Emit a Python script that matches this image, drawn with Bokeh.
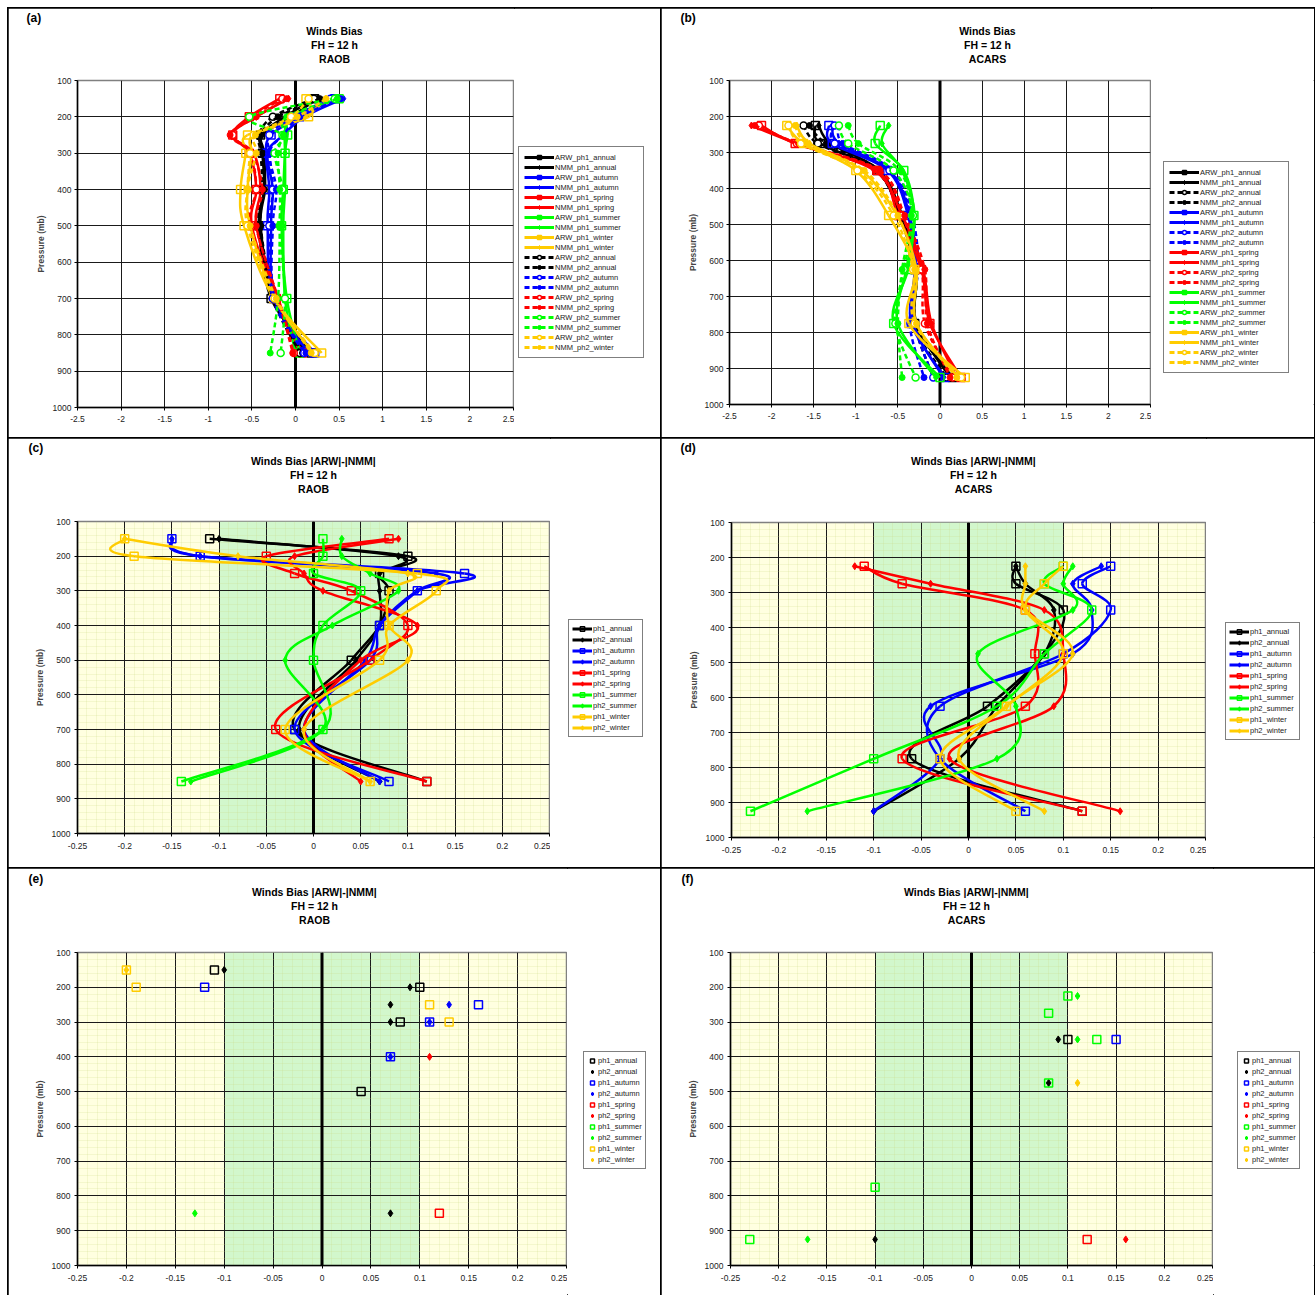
import math
from bokeh.plotting import figure
from bokeh.models import (ColumnDataSource, FixedTicker, CustomJSTickFormatter, Legend,
                          LegendItem, Span, Title)
from bokeh.layouts import column, row
from bokeh.embed import file_html
from bokeh.resources import INLINE

NAN = float("nan")

# ------------------------------------------------------------------ data
raob_levels = [150, 200, 250, 300, 400, 500, 700, 850]
acars_levels = [225, 275, 350, 475, 625, 775, 925]
pressure_ticks = [100, 200, 300, 400, 500, 600, 700, 800, 900, 1000]
bias_ticks = [-2.5, -2, -1.5, -1, -0.5, 0, 0.5, 1, 1.5, 2, 2.5]
diff_ticks = [-0.25, -0.2, -0.15, -0.1, -0.05, 0, 0.05, 0.1, 0.15, 0.2, 0.25]
seasons = ["annual", "autumn", "spring", "summer", "winter"]
season_colors = ["#000000", "#0000FF", "#FF0000", "#00FF00", "#FFCC00"]

# (a) Winds bias, RAOB
a_arw_ph1_annual = [0.22, -0.12, -0.40, -0.38, -0.36, -0.42, -0.28, 0.18]
a_nmm_ph1_annual = [0.25, -0.05, -0.38, -0.36, -0.35, -0.40, -0.25, 0.12]
a_arw_ph1_autumn = [0.45, 0.05, -0.28, -0.34, -0.30, -0.32, -0.25, 0.22]
a_nmm_ph1_autumn = [0.55, 0.10, -0.14, -0.32, -0.26, -0.28, -0.24, 0.15]
a_arw_ph1_spring = [-0.18, -0.53, -0.72, -0.53, -0.45, -0.50, -0.22, 0.08]
a_nmm_ph1_spring = [-0.08, -0.45, -0.74, -0.48, -0.40, -0.45, -0.20, 0.05]
a_arw_ph1_summer = [0.50, -0.05, -0.09, -0.12, -0.14, -0.16, -0.10, 0.05]
a_nmm_ph1_summer = [0.50, -0.05, -0.12, -0.12, -0.12, -0.14, -0.12, 0.00]
a_arw_ph1_winter = [0.12, 0.15, -0.55, -0.57, -0.63, -0.59, -0.25, 0.30]
a_nmm_ph1_winter = [0.35, 0.10, -0.48, -0.50, -0.55, -0.52, -0.24, 0.20]
a_arw_ph2_annual = [0.21, -0.26, -0.42, -0.40, -0.38, -0.42, -0.26, 0.05]
a_nmm_ph2_annual = [0.28, -0.20, -0.40, -0.38, -0.36, -0.40, -0.24, 0.08]
a_arw_ph2_autumn = [0.40, -0.02, -0.30, -0.30, -0.26, -0.30, -0.26, 0.10]
a_nmm_ph2_autumn = [0.52, 0.05, -0.14, -0.30, -0.22, -0.26, -0.24, 0.12]
a_arw_ph2_spring = [-0.15, -0.50, -0.72, -0.52, -0.45, -0.52, -0.20, -0.02]
a_nmm_ph2_spring = [-0.10, -0.45, -0.75, -0.50, -0.38, -0.45, -0.20, -0.03]
a_arw_ph2_summer = [0.45, -0.53, -0.15, -0.24, -0.15, -0.18, -0.12, -0.17]
a_nmm_ph2_summer = [0.48, -0.10, -0.14, -0.20, -0.18, -0.18, -0.20, -0.29]
a_arw_ph2_winter = [0.15, -0.05, -0.48, -0.52, -0.55, -0.55, -0.24, 0.22]
a_nmm_ph2_winter = [0.35, 0.02, -0.46, -0.45, -0.55, -0.52, -0.22, 0.18]

# (b) Winds bias, ACARS
b_arw_ph1_annual = [-1.48, -1.42, -0.75, -0.48, -0.30, -0.30, 0.15]
b_nmm_ph1_annual = [-1.44, -1.30, -0.72, -0.45, -0.28, -0.28, 0.12]
b_arw_ph2_annual = [-1.62, -1.45, -0.76, -0.47, -0.28, -0.32, 0.08]
b_nmm_ph2_annual = [-1.55, -1.35, -0.72, -0.44, -0.28, -0.30, -0.08]
b_arw_ph1_autumn = [-1.32, -1.28, -0.62, -0.38, -0.30, -0.34, 0.06]
b_nmm_ph1_autumn = [-1.28, -1.20, -0.60, -0.36, -0.28, -0.32, 0.04]
b_arw_ph2_autumn = [-1.25, -1.25, -0.60, -0.35, -0.30, -0.30, -0.08]
b_nmm_ph2_autumn = [-1.20, -1.15, -0.56, -0.33, -0.26, -0.36, -0.19]
b_arw_ph1_spring = [-2.12, -1.72, -0.75, -0.50, -0.22, -0.12, 0.25]
b_nmm_ph1_spring = [-2.24, -1.70, -0.78, -0.45, -0.20, -0.10, 0.20]
b_arw_ph2_spring = [-2.15, -1.70, -0.72, -0.45, -0.22, -0.18, 0.15]
b_nmm_ph2_spring = [-2.20, -1.68, -0.72, -0.42, -0.18, -0.15, 0.12]
b_arw_ph1_summer = [-0.71, -0.77, -0.43, -0.31, -0.38, -0.55, 0.00]
b_nmm_ph1_summer = [-0.61, -0.69, -0.45, -0.30, -0.40, -0.50, -0.05]
b_arw_ph2_summer = [-1.20, -1.09, -0.55, -0.32, -0.43, -0.53, -0.29]
b_nmm_ph2_summer = [-1.09, -0.97, -0.48, -0.34, -0.45, -0.50, -0.45]
b_arw_ph1_winter = [-1.82, -1.62, -1.00, -0.61, -0.30, -0.37, 0.30]
b_nmm_ph1_winter = [-1.70, -1.55, -0.93, -0.51, -0.28, -0.28, 0.22]
b_arw_ph2_winter = [-1.80, -1.65, -0.98, -0.55, -0.32, -0.30, 0.25]
b_nmm_ph2_winter = [-1.72, -1.58, -0.90, -0.50, -0.30, -0.28, 0.20]

# (c) |ARW|-|NMM|, RAOB
c_ph1_annual = [-0.11, 0.10, 0.07, 0.08, 0.07, 0.04, -0.02, 0.12]
c_ph2_annual = [-0.10, 0.09, 0.07, 0.07, 0.07, 0.045, -0.015, 0.07]
c_ph1_autumn = [-0.15, -0.12, 0.16, 0.11, 0.07, 0.06, -0.02, 0.08]
c_ph2_autumn = [-0.15, -0.12, 0.13, 0.11, 0.07, 0.055, -0.01, 0.07]
c_ph1_spring = [0.08, -0.05, -0.02, 0.04, 0.10, 0.06, -0.04, 0.12]
c_ph2_spring = [0.09, -0.02, -0.01, 0.01, 0.11, 0.05, -0.01, 0.05]
c_ph1_summer = [0.01, 0.01, 0.00, 0.05, 0.01, 0.00, 0.01, -0.14]
c_ph2_summer = [0.03, 0.03, 0.06, 0.09, 0.02, -0.03, 0.01, -0.13]
c_ph1_winter = [-0.20, -0.19, 0.11, 0.13, 0.08, 0.07, -0.03, 0.06]
c_ph2_winter = [-0.20, -0.08, 0.10, 0.08, 0.08, 0.10, -0.01, 0.06]

# (d) |ARW|-|NMM|, ACARS
d_ph1_annual = [0.05, 0.05, 0.10, 0.08, 0.02, -0.06, 0.12]
d_ph2_annual = [0.05, 0.06, 0.09, 0.08, 0.03, -0.01, -0.10]
d_ph1_autumn = [0.15, 0.12, 0.15, 0.10, -0.03, -0.03, 0.06]
d_ph2_autumn = [0.14, 0.11, 0.13, 0.11, -0.04, -0.03, -0.10]
d_ph1_spring = [-0.11, -0.07, 0.06, 0.07, 0.06, -0.07, 0.12]
d_ph2_spring = [-0.12, -0.04, 0.08, 0.10, 0.09, -0.02, 0.16]
d_ph1_summer = [0.10, 0.08, 0.13, 0.08, 0.03, -0.10, -0.23]
d_ph2_summer = [0.11, 0.10, 0.11, 0.01, 0.05, 0.03, -0.17]
d_ph1_winter = [0.10, 0.08, 0.06, 0.10, 0.04, -0.03, 0.05]
d_ph2_winter = [0.06, 0.06, 0.06, 0.11, 0.04, -0.01, 0.08]

# (e) significant differences, RAOB
e_ph1_annual = [-0.11, 0.10, NAN, 0.08, NAN, 0.04, NAN, NAN]
e_ph2_annual = [-0.10, 0.09, 0.07, 0.07, NAN, NAN, NAN, 0.07]
e_ph1_autumn = [NAN, -0.12, 0.16, 0.11, 0.07, NAN, NAN, NAN]
e_ph2_autumn = [NAN, NAN, 0.13, 0.11, 0.07, NAN, NAN, NAN]
e_ph1_spring = [NAN, NAN, NAN, NAN, NAN, NAN, NAN, 0.12]
e_ph2_spring = [NAN, NAN, NAN, NAN, 0.11, NAN, NAN, NAN]
e_ph1_summer = [NAN, NAN, NAN, NAN, NAN, NAN, NAN, NAN]
e_ph2_summer = [NAN, NAN, NAN, NAN, NAN, NAN, NAN, -0.13]
e_ph1_winter = [-0.20, -0.19, 0.11, 0.13, NAN, NAN, NAN, NAN]
e_ph2_winter = [-0.20, NAN, NAN, NAN, NAN, NAN, NAN, NAN]

# (f) significant differences, ACARS
f_ph1_annual = [NAN, NAN, 0.10, NAN, NAN, NAN, NAN]
f_ph2_annual = [NAN, NAN, 0.09, 0.08, NAN, NAN, -0.10]
f_ph1_autumn = [NAN, NAN, 0.15, NAN, NAN, NAN, NAN]
f_ph2_autumn = [NAN, NAN, NAN, NAN, NAN, NAN, NAN]
f_ph1_spring = [NAN, NAN, NAN, NAN, NAN, NAN, 0.12]
f_ph2_spring = [NAN, NAN, NAN, NAN, NAN, NAN, 0.16]
f_ph1_summer = [0.10, 0.08, 0.13, 0.08, NAN, -0.10, -0.23]
f_ph2_summer = [0.11, NAN, 0.11, NAN, NAN, NAN, -0.17]
f_ph1_winter = [NAN, NAN, NAN, NAN, NAN, NAN, NAN]
f_ph2_winter = [NAN, NAN, NAN, 0.11, NAN, NAN, NAN]

# ------------------------------------------------------------------ helpers
FONT = "Liberation Sans"
AB_W = {'W': 944, 'i': 278, 'n': 611, 'd': 611, 's': 556, ' ': 278, 'B': 722, 'a': 556,
        'F': 611, 'H': 722, '=': 584, '1': 556, '2': 556, 'h': 611, 'R': 722, 'A': 722,
        'O': 778, 'C': 722, 'S': 667, '|': 280, 'M': 833, 'N': 722, '-': 333}
PANEL_BORDER = {"outline": "2px solid black", "outline-offset": "-1px"}


def text_w(s, size):
    return sum(AB_W.get(c, 556) for c in s) * size / 1000.0


def smooth_segments(xs, ys):
    pts = [(x, y) for x, y in zip(xs, ys) if not math.isnan(x)]
    d = {k: [] for k in ("x0", "y0", "x1", "y1", "cx0", "cy0", "cx1", "cy1")}
    n = len(pts)
    for i in range(n - 1):
        p0 = pts[max(i - 1, 0)]
        p1 = pts[i]
        p2 = pts[i + 1]
        p3 = pts[min(i + 2, n - 1)]
        d["x0"].append(p1[0]); d["y0"].append(p1[1])
        d["x1"].append(p2[0]); d["y1"].append(p2[1])
        d["cx0"].append(p1[0] + (p2[0] - p0[0]) / 6.0)
        d["cy0"].append(p1[1] + (p2[1] - p0[1]) / 6.0)
        d["cx1"].append(p2[0] - (p3[0] - p1[0]) / 6.0)
        d["cy1"].append(p2[1] - (p3[1] - p1[1]) / 6.0)
    return d


def valid(xs, ys):
    px, py = [], []
    for x, y in zip(xs, ys):
        if not math.isnan(x):
            px.append(x); py.append(y)
    return px, py


def make_fig(fw, fh, l, t, b, xr, xticks, xminor, shaded):
    p = figure(frame_width=fw, frame_height=fh, x_range=xr, y_range=(1000, 100),
               output_backend="svg", toolbar_location=None,
               min_border_left=l, min_border_right=1, min_border_top=t, min_border_bottom=b,
               background_fill_color="#FFFFE0" if shaded else "white",
               border_fill_color="white", outline_line_color="#808080", outline_line_width=1.5)
    p.title.visible = False
    yminor = [v for v in range(100, 1001, 20) if v % 100 != 0] if shaded else []
    xt = FixedTicker(ticks=xticks, minor_ticks=xminor)
    yt = FixedTicker(ticks=pressure_ticks, minor_ticks=yminor)
    p.xaxis.ticker = xt
    p.xgrid.ticker = xt
    p.yaxis.ticker = yt
    p.ygrid.ticker = yt
    p.xaxis.formatter = CustomJSTickFormatter(code="return String(Math.round(tick*100)/100);")
    for ax in (p.xaxis[0], p.yaxis[0]):
        ax.major_label_text_font = FONT
        ax.major_label_text_font_size = "8.5px"
        ax.major_label_text_color = "#222222"
        ax.axis_line_color = "black"
        ax.axis_line_width = 1.5
        ax.major_tick_line_color = "black"
        ax.major_tick_out = 3
        ax.major_tick_in = 0
        ax.minor_tick_line_color = None
    p.xaxis.major_label_standoff = 5
    p.yaxis.major_label_standoff = 3
    p.yaxis.axis_label = "Pressure (mb)"
    p.yaxis.axis_label_text_font = FONT
    p.yaxis.axis_label_text_font_size = "8.5px"
    p.yaxis.axis_label_text_font_style = "bold"
    p.yaxis.axis_label_standoff = 4
    for g in (p.xgrid[0], p.ygrid[0]):
        g.grid_line_color = "#1a1a1a"
        g.grid_line_width = 1
        if shaded:
            g.minor_grid_line_color = "#C8D880"
            g.minor_grid_line_alpha = 0.35
            g.minor_grid_line_width = 0.6
    if shaded:
        p.quad(left=[-0.1], right=[0.1], bottom=[1000], top=[100],
               fill_color="#D2F7CC", line_color=None, level="image")
    p.add_layout(Span(location=0, dimension="height", line_color="black",
                      line_width=3, level="underlay"))
    return p


def add_titles(p, letter, lines, center_rel, letter_rel, gap):
    # a blank white spacer row keeps the title block at a fixed distance from the frame
    p.add_layout(Title(text=".", text_color="white", text_font_size="4px", standoff=gap),
                 "above")
    for s in reversed(lines):
        off = center_rel - text_w(s, 10.5) / 2.0
        p.add_layout(Title(text=s, align="left", offset=off, text_font=FONT,
                           text_font_size="10.5px", text_font_style="bold",
                           text_color="black", standoff=0), "above")
    p.add_layout(Title(text=letter, align="left", offset=letter_rel, text_font=FONT,
                       text_font_size="12px", text_font_style="bold",
                       text_color="black", standoff=-4), "above")


def marker_style(kind, color):
    if kind == "sq":
        return dict(marker="square", size=8, line_color=color, fill_color=None, line_width=1.5)
    if kind == "dm":
        return dict(marker="diamond", size=7, line_color=color, fill_color=color, line_width=1)
    if kind == "oc":
        return dict(marker="circle", size=7, line_color=color, fill_color="white", line_width=1.5)
    return dict(marker="circle", size=6, line_color=color, fill_color=color, line_width=1)


def draw_series(p, xs, levels, color, dash, kind, lines=True):
    if lines:
        src = ColumnDataSource(smooth_segments(xs, levels))
        p.bezier(x0="x0", y0="y0", x1="x1", y1="y1", cx0="cx0", cy0="cy0",
                 cx1="cx1", cy1="cy1", source=src, line_color=color, line_width=2.5,
                 line_dash=dash)
    px, py = valid(xs, levels)
    p.scatter(px, py, **marker_style(kind, color))


def legend_panel(w, h, specs, loc, gw, gh, lw, pad, with_line):
    lf = figure(width=w, height=h, x_range=(0, 1), y_range=(0, 1), output_backend="svg",
                toolbar_location=None, x_axis_type=None, y_axis_type=None, min_border=0,
                outline_line_color=None, background_fill_color="white",
                border_fill_color="white")
    lf.title.visible = False
    lf.grid.visible = False
    items = []
    for label, color, dash, kind in specs:
        rs = []
        if with_line:
            rs.append(lf.line([NAN, NAN], [NAN, NAN], line_color=color, line_width=3,
                              line_dash=dash))
        rs.append(lf.scatter([NAN], [NAN], **marker_style(kind, color)))
        items.append(LegendItem(label=label, renderers=rs))
    lg = Legend(items=items, location=loc, orientation="vertical",
                glyph_width=gw, glyph_height=gh, label_height=gh, label_width=lw,
                label_standoff=1, spacing=0, padding=pad, margin=0,
                label_text_font=FONT, label_text_font_size="7.5px",
                label_text_color="#222222", border_line_color="black",
                border_line_width=1, background_fill_color="white",
                background_fill_alpha=1.0)
    lf.add_layout(lg, "center")
    return lf


bias_minor = []
diff_minor = [round(-0.25 + 0.01 * i, 2) for i in range(51)]


def ab_style(name):
    model, phase, season = name.split("_")
    color = season_colors[seasons.index(season)]
    dash = "solid" if phase == "ph1" else "5 3"
    if phase == "ph1":
        kind = "sq" if model == "ARW" else "dm"
    else:
        kind = "oc" if model == "ARW" else "fc"
    return color, dash, kind


# ------------------------------------------------------------------ panel (a)
a_series = [
    ("ARW_ph1_annual", a_arw_ph1_annual), ("NMM_ph1_annual", a_nmm_ph1_annual),
    ("ARW_ph1_autumn", a_arw_ph1_autumn), ("NMM_ph1_autumn", a_nmm_ph1_autumn),
    ("ARW_ph1_spring", a_arw_ph1_spring), ("NMM_ph1_spring", a_nmm_ph1_spring),
    ("ARW_ph1_summer", a_arw_ph1_summer), ("NMM_ph1_summer", a_nmm_ph1_summer),
    ("ARW_ph1_winter", a_arw_ph1_winter), ("NMM_ph1_winter", a_nmm_ph1_winter),
    ("ARW_ph2_annual", a_arw_ph2_annual), ("NMM_ph2_annual", a_nmm_ph2_annual),
    ("ARW_ph2_autumn", a_arw_ph2_autumn), ("NMM_ph2_autumn", a_nmm_ph2_autumn),
    ("ARW_ph2_spring", a_arw_ph2_spring), ("NMM_ph2_spring", a_nmm_ph2_spring),
    ("ARW_ph2_summer", a_arw_ph2_summer), ("NMM_ph2_summer", a_nmm_ph2_summer),
    ("ARW_ph2_winter", a_arw_ph2_winter), ("NMM_ph2_winter", a_nmm_ph2_winter),
]
pa = make_fig(436, 327, 69, 72, 31, (-2.5, 2.5), bias_ticks, bias_minor, False)
add_titles(pa, "(a)", ["Winds Bias", "FH = 12 h", "RAOB"], 257, -51, 11)
for name, vals in a_series:
    color, dash, kind = ab_style(name)
    draw_series(pa, vals, raob_levels, color, dash, kind)
la = legend_panel(147, 430, [(n,) + ab_style(n) for n, _ in a_series], (4, 49),
                  30, 10, 83, 5, True)

# ------------------------------------------------------------------ panel (b)
b_series = [
    ("ARW_ph1_annual", b_arw_ph1_annual), ("NMM_ph1_annual", b_nmm_ph1_annual),
    ("ARW_ph2_annual", b_arw_ph2_annual), ("NMM_ph2_annual", b_nmm_ph2_annual),
    ("ARW_ph1_autumn", b_arw_ph1_autumn), ("NMM_ph1_autumn", b_nmm_ph1_autumn),
    ("ARW_ph2_autumn", b_arw_ph2_autumn), ("NMM_ph2_autumn", b_nmm_ph2_autumn),
    ("ARW_ph1_spring", b_arw_ph1_spring), ("NMM_ph1_spring", b_nmm_ph1_spring),
    ("ARW_ph2_spring", b_arw_ph2_spring), ("NMM_ph2_spring", b_nmm_ph2_spring),
    ("ARW_ph1_summer", b_arw_ph1_summer), ("NMM_ph1_summer", b_nmm_ph1_summer),
    ("ARW_ph2_summer", b_arw_ph2_summer), ("NMM_ph2_summer", b_nmm_ph2_summer),
    ("ARW_ph1_winter", b_arw_ph1_winter), ("NMM_ph1_winter", b_nmm_ph1_winter),
    ("ARW_ph2_winter", b_arw_ph2_winter), ("NMM_ph2_winter", b_nmm_ph2_winter),
]
pb = make_fig(421, 324, 68, 72, 34, (-2.5, 2.5), bias_ticks, bias_minor, False)
add_titles(pb, "(b)", ["Winds Bias", "FH = 12 h", "ACARS"], 258, -49, 11)
for name, vals in b_series:
    color, dash, kind = ab_style(name)
    draw_series(pb, vals, acars_levels, color, dash, kind)
lb = legend_panel(163, 430, [(n,) + ab_style(n) for n, _ in b_series], (12, 31),
                  30, 10, 83, 5, True)

# ------------------------------------------------------------------ panels (c)-(f)
c_series = [("ph1_annual", c_ph1_annual), ("ph2_annual", c_ph2_annual),
            ("ph1_autumn", c_ph1_autumn), ("ph2_autumn", c_ph2_autumn),
            ("ph1_spring", c_ph1_spring), ("ph2_spring", c_ph2_spring),
            ("ph1_summer", c_ph1_summer), ("ph2_summer", c_ph2_summer),
            ("ph1_winter", c_ph1_winter), ("ph2_winter", c_ph2_winter)]
d_series = [("ph1_annual", d_ph1_annual), ("ph2_annual", d_ph2_annual),
            ("ph1_autumn", d_ph1_autumn), ("ph2_autumn", d_ph2_autumn),
            ("ph1_spring", d_ph1_spring), ("ph2_spring", d_ph2_spring),
            ("ph1_summer", d_ph1_summer), ("ph2_summer", d_ph2_summer),
            ("ph1_winter", d_ph1_winter), ("ph2_winter", d_ph2_winter)]
e_series = [("ph1_annual", e_ph1_annual), ("ph2_annual", e_ph2_annual),
            ("ph1_autumn", e_ph1_autumn), ("ph2_autumn", e_ph2_autumn),
            ("ph1_spring", e_ph1_spring), ("ph2_spring", e_ph2_spring),
            ("ph1_summer", e_ph1_summer), ("ph2_summer", e_ph2_summer),
            ("ph1_winter", e_ph1_winter), ("ph2_winter", e_ph2_winter)]
f_series = [("ph1_annual", f_ph1_annual), ("ph2_annual", f_ph2_annual),
            ("ph1_autumn", f_ph1_autumn), ("ph2_autumn", f_ph2_autumn),
            ("ph1_spring", f_ph1_spring), ("ph2_spring", f_ph2_spring),
            ("ph1_summer", f_ph1_summer), ("ph2_summer", f_ph2_summer),
            ("ph1_winter", f_ph1_winter), ("ph2_winter", f_ph2_winter)]


def diff_style(name):
    phase, season = name.split("_")
    color = season_colors[seasons.index(season)]
    kind = "sq" if phase == "ph1" else "dm"
    return color, "solid", kind


def diff_panel(frame, borders, letter, src_name, center_rel, letter_rel, gap,
               series, levels, lines, leg_w, leg_h, leg_loc, gw, lw):
    fw, fh = frame
    l, t, b = borders
    p = make_fig(fw, fh, l, t, b, (-0.25, 0.25), diff_ticks, diff_minor, True)
    add_titles(p, letter, ["Winds Bias |ARW|-|NMM|", "FH = 12 h", src_name],
               center_rel, letter_rel, gap)
    for name, vals in series:
        color, dash, kind = diff_style(name)
        draw_series(p, vals, levels, color, dash, kind, lines=lines)
    lf = legend_panel(leg_w, leg_h, [(n,) + diff_style(n) for n, _ in series], leg_loc,
                      gw, 11, lw, 3, lines)
    return p, lf


pc, lc = diff_panel((472, 312), (69, 83, 35), "(c)", "RAOB", 236, -49, 22,
                    c_series, raob_levels, True, 111, 430, (18, 96), 20, 46)
pd_, ld = diff_panel((474, 315), (70, 84, 31), "(d)", "ACARS", 242, -51, 23,
                     d_series, acars_levels, True, 108, 430, (19, 97), 20, 46)
pe, le = diff_panel((489, 313), (69, 84, 30), "(e)", "RAOB", 237, -49, 22,
                    e_series, raob_levels, False, 94, 427, (16, 96), 10, 37)
pf, lf_ = diff_panel((482, 313), (69, 84, 30), "(f)", "ACARS", 236, -49, 22,
                     f_series, acars_levels, False, 101, 427, (24, 96), 10, 37)


def panel(p, lg):
    return row(p, lg, spacing=0, styles=PANEL_BORDER)


layout = column(row(panel(pa, la), panel(pb, lb), spacing=0),
                row(panel(pc, lc), panel(pd_, ld), spacing=0),
                row(panel(pe, le), panel(pf, lf_), spacing=0),
                spacing=0, margin=(8, 0, 0, 8))

open("out.html", "w").write(file_html(layout, INLINE))
